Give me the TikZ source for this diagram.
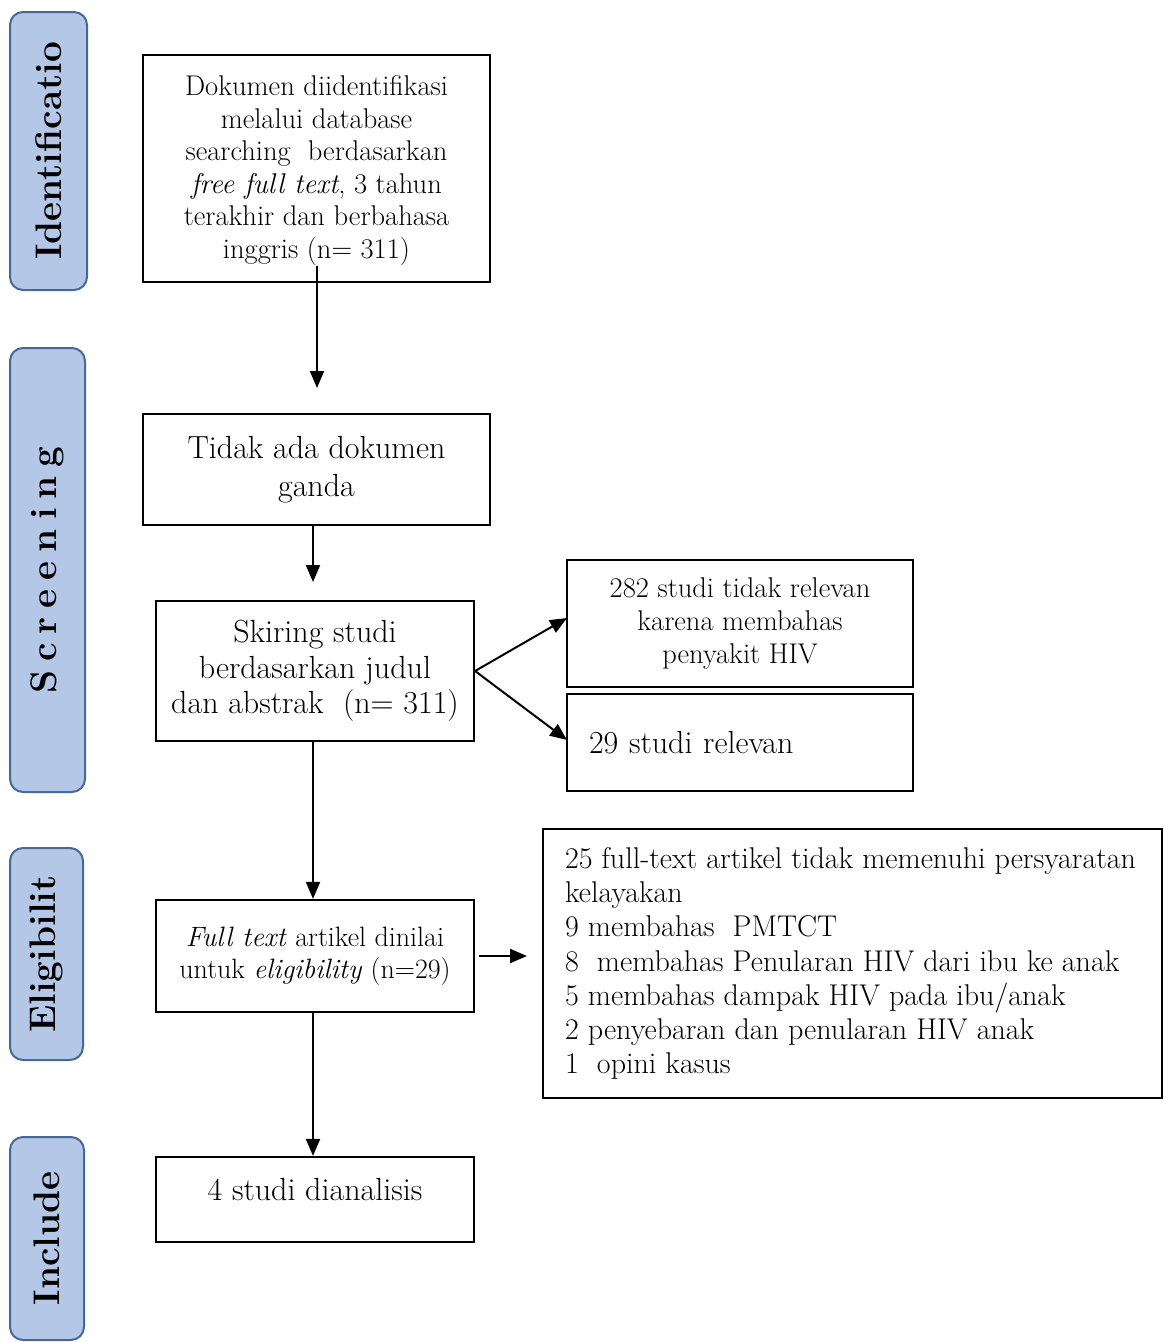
\documentclass[tikz,border=0pt]{standalone}
\usepackage{fontspec}
\usetikzlibrary{arrows.meta}
\definecolor{sidefill}{RGB}{180,199,231}
\definecolor{sideborder}{RGB}{72,104,150}
\newcommand{\mainsz}{\fontsize{28.5}{32.5}\selectfont}
\newcommand{\bigsz}{\fontsize{32}{36.5}\selectfont}
\newcommand{\listsz}{\fontsize{30}{34.2}\selectfont}
\newcommand{\sidesz}{\fontsize{37}{42}\selectfont\bfseries}
\begin{document}
\begin{tikzpicture}[x=1pt,y=-1pt,
  box/.style={draw=black, line width=2.2pt, inner sep=0pt, align=center, font=\mainsz},
  side/.style={draw=sideborder, fill=sidefill, rounded corners=13pt, line width=2pt, inner sep=0pt, font=\sidesz},
  arr/.style={-{Triangle[length=17pt,width=14pt]}, line width=2pt}]
\useasboundingbox (0,0) rectangle (1164,1342);
% side labels
\node[side, rotate=90, minimum width=278, minimum height=77] (sid) at (48.5,151) {Identificatio};
\node[side, rotate=90, minimum width=444, minimum height=75] (scr) at (47.5,570) {S\hspace{9pt}c\hspace{9pt}r\hspace{9pt}e\hspace{9pt}e\hspace{9pt}n\hspace{9pt}i\hspace{9pt}n\hspace{9pt}g};
\node[side, rotate=90, minimum width=212, minimum height=73] (eli) at (46.5,954) {Eligibilit};
\node[side, rotate=90, minimum width=203, minimum height=74] (inc) at (47,1238.5) {Include};
% main boxes
\node[box, minimum width=347, minimum height=227] (b1) at (316.5,168.5) {\raisebox{-2pt}[\height][\depth]{\parbox{347pt}{\centering Dokumen diidentifikasi\\melalui database\\searching~ berdasarkan\\\textit{free full text}, 3 tahun\\terakhir dan berbahasa\\inggris (n= 311)}}};
\node[box, font=\fontsize{32}{38}\selectfont, minimum width=347, minimum height=111] (b2) at (316.5,469.5) {Tidak ada dokumen\\ganda};
\node[box, font=\fontsize{32}{35.5}\selectfont, minimum width=318, minimum height=140] (b3) at (315,671) {Skiring studi\\berdasarkan judul\\dan abstrak~ (n= 311)};
\node[box, font=\fontsize{28.5}{33}\selectfont, minimum width=346, minimum height=127] (b4) at (740,623.5) {282 studi tidak relevan\\karena membahas\\penyakit HIV};
\node[box, font=\bigsz, minimum width=346, minimum height=97, align=left, text width=302] (b5) at (740,742.5) {29 studi relevan};
\node[box, font=\fontsize{28}{32}\selectfont, minimum width=318, minimum height=112] (b6) at (315,956) {\textit{Full text} artikel dinilai\\untuk \textit{eligibility} (n=29)};
\node[box, minimum width=619, minimum height=269] (b7) at (852.5,963.5) {};
\node[font=\listsz, align=left, inner sep=0pt, anchor=west] (b7t) at ([xshift=23pt]b7.west) {25 full-text artikel tidak memenuhi persyaratan\\kelayakan\\9 membahas~ PMTCT\\8~ membahas Penularan HIV dari ibu ke anak\\5 membahas dampak HIV pada ibu/anak\\2 penyebaran dan penularan HIV anak\\1~ opini kasus};
\node[box, font=\bigsz, minimum width=318, minimum height=85] (b8) at (315,1199.5) {\raisebox{9.5pt}[\height][\depth]{4 studi dianalisis}};
% connectors
\coordinate (c1) at (317,388);
\coordinate (c2) at (313,582);
\coordinate (c5) at (527,956);
\coordinate (c4a) at (567,618);
\coordinate (c4b) at (567,740);
\draw[arr] (b1.south -| c1) ++(0,-17) -- (c1);
\draw[arr] (b2.south -| c2) -- (c2);
\draw[arr] (b3.south -| c2) -- (b6.north -| c2);
\draw[arr] (b3.east) -- (c4a);
\draw[arr] (b3.east) -- (c4b);
\draw[arr] (b6.east) ++(4,0) -- (c5);
\draw[arr] (b6.south -| c2) -- (b8.north -| c2);
\end{tikzpicture}
\end{document}
